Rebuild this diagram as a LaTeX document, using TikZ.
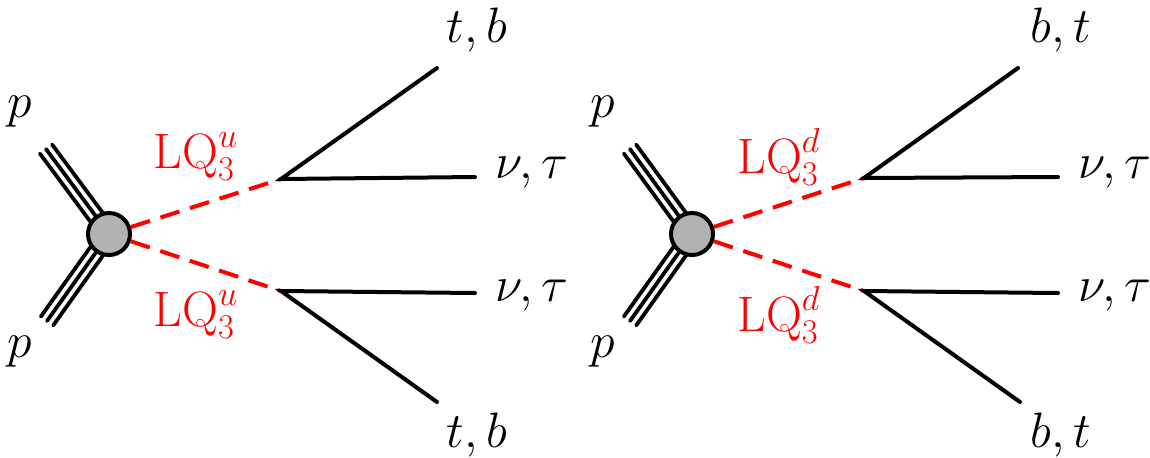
\documentclass[tikz,border=0pt]{standalone}
\usetikzlibrary{calc}
\begin{document}
\begin{tikzpicture}[x=0.5pt,y=-0.5pt,
  fermion/.style={line width=2pt, line cap=round},
  scalar/.style={red, line width=2pt, dash pattern=on 10pt off 5.5pt},
  proton/.style={line width=1.9pt, line cap=round},
  blob/.style={circle, draw, line width=2pt, fill=black!30, minimum size=21pt, inner sep=0pt},
  lbl/.style={font=\fontsize{26}{30}\selectfont, inner sep=0pt},
  lqlbl/.style={lbl, text=red}]
\useasboundingbox (0,0) rectangle (1150,457);
% ---------- left diagram ----------
\coordinate (c1) at (109,234);
\coordinate (pu1) at (46,149);
\coordinate (pd1) at (47,321);
\coordinate (v1u) at (281,179);
\coordinate (v1d) at (281,291);
\coordinate (e1a) at (437,68);
\coordinate (e1b) at (475,177);
\coordinate (e1c) at (475,293);
\coordinate (e1d) at (437,402);
\foreach \p in {pu1,pd1}{
  \draw[proton] (c1) -- (\p);
  \draw[proton] ($(c1)!3.8pt!90:(\p)$) -- ($(\p)!3.8pt!-90:(c1)$);
  \draw[proton] ($(c1)!3.8pt!-90:(\p)$) -- ($(\p)!3.8pt!90:(c1)$);
}
\node[blob] (b1) at (c1) {};
\draw[scalar] (b1) -- (v1u);
\draw[scalar] (b1) -- (v1d);
\draw[fermion] (e1a) -- (v1u) -- (e1b);
\draw[fermion] (e1c) -- (v1d) -- (e1d);
\node[lbl] (p1u) at (20,112) {$p$};
\node[lbl] (p1d) at (20,352) {$p$};
\node[lqlbl] (lq1u) at (196,157) {$\mathrm{LQ}_3^u$};
\node[lqlbl] (lq1d) at (196,315) {$\mathrm{LQ}_3^u$};
\node[lbl] (t1a) at (477,30) {$t,b$};
\node[lbl] (t1b) at (532,173) {$\nu,\tau$};
\node[lbl] (t1c) at (532,296) {$\nu,\tau$};
\node[lbl] (t1d) at (477,435) {$t,b$};
% ---------- right diagram ----------
\coordinate (c2) at (692,234);
\coordinate (pu2) at (630,149);
\coordinate (pd2) at (630,321);
\coordinate (v2u) at (864,178);
\coordinate (v2d) at (864,291);
\coordinate (e2a) at (1018,68);
\coordinate (e2b) at (1058,177);
\coordinate (e2c) at (1058,293);
\coordinate (e2d) at (1020,402);
\foreach \p in {pu2,pd2}{
  \draw[proton] (c2) -- (\p);
  \draw[proton] ($(c2)!3.8pt!90:(\p)$) -- ($(\p)!3.8pt!-90:(c2)$);
  \draw[proton] ($(c2)!3.8pt!-90:(\p)$) -- ($(\p)!3.8pt!90:(c2)$);
}
\node[blob] (b2) at (c2) {};
\draw[scalar] (b2) -- (v2u);
\draw[scalar] (b2) -- (v2d);
\draw[fermion] (e2a) -- (v2u) -- (e2b);
\draw[fermion] (e2c) -- (v2d) -- (e2d);
\node[lbl] (p2u) at (603,112) {$p$};
\node[lbl] (p2d) at (603,352) {$p$};
\node[lqlbl] (lq2u) at (779,157) {$\mathrm{LQ}_3^d$};
\node[lqlbl] (lq2d) at (779,315) {$\mathrm{LQ}_3^d$};
\node[lbl] (t2a) at (1061,30) {$b,t$};
\node[lbl] (t2b) at (1115,173) {$\nu,\tau$};
\node[lbl] (t2c) at (1115,296) {$\nu,\tau$};
\node[lbl] (t2d) at (1061,435) {$b,t$};
\end{tikzpicture}
\end{document}
